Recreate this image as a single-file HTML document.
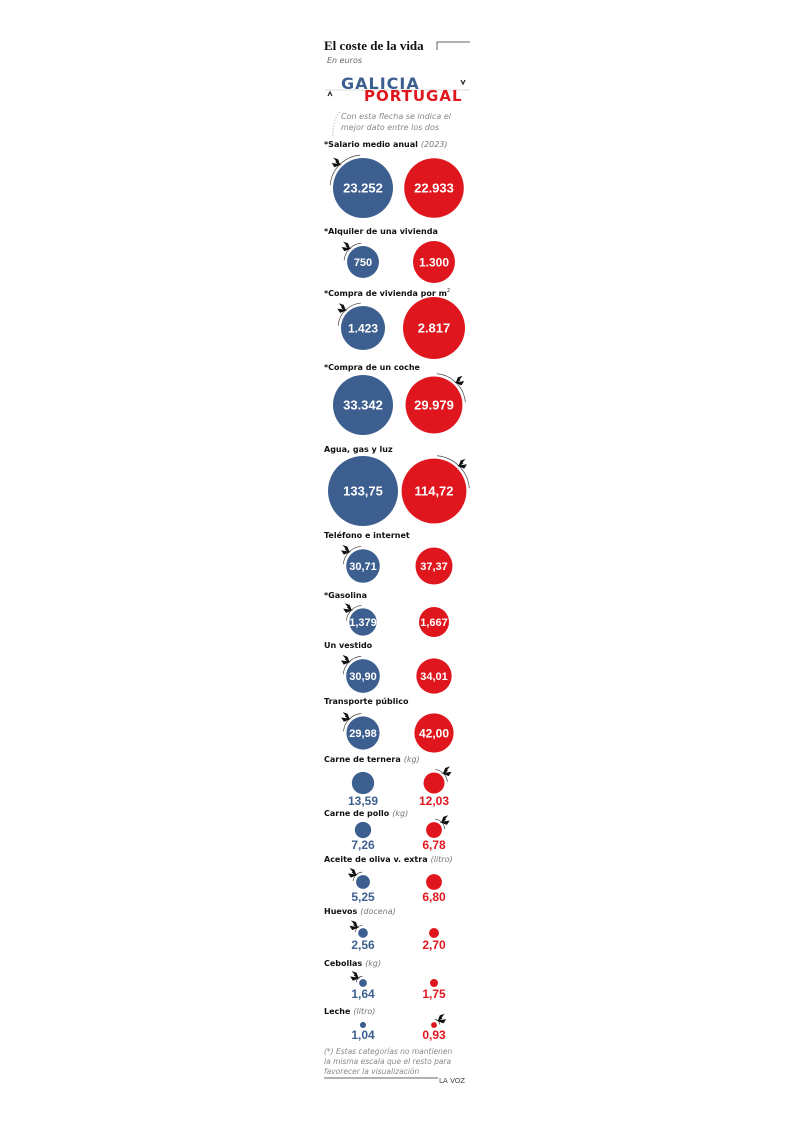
<!DOCTYPE html>
<html><head><meta charset="utf-8"><style>
html,body{margin:0;padding:0;background:#fff;}
svg{display:block;}
text{font-family:"DejaVu Sans","Liberation Sans",sans-serif;}
</style></head><body>
<svg width="794" height="1123" viewBox="0 0 794 1123" id="chart">
<text x="324" y="50" font-weight="bold" font-size="13" fill="#111" style="font-family:'Liberation Serif',serif">El coste de la vida</text>
<path d="M437 50 V42 H470" stroke="#333" fill="none" stroke-width="0.8"/>
<text x="327" y="63" font-size="8" font-style="italic" fill="#666">En euros</text>
<text x="341" y="89" font-size="16" font-weight="bold" fill="#3d5f8f" letter-spacing="1">GALICIA</text>
<line x1="325" y1="90" x2="470" y2="90" stroke="#bbb" stroke-width="0.6"/>
<text x="364" y="101" font-size="15" font-weight="bold" fill="#e0161e" letter-spacing="1">PORTUGAL</text>
<path d="M328 96 l2 -4 l2 4" stroke="#222" fill="none" stroke-width="1.2"/>
<path d="M461 80 l2 4 l2 -4" stroke="#222" fill="none" stroke-width="1.2"/>
<path d="M340 112 Q332 120 333 138" stroke="#999" fill="none" stroke-width="0.6" stroke-dasharray="1.5,1.5"/>
<text x="341" y="119" font-size="8" font-style="italic" fill="#888">Con esta flecha se indica el</text>
<text x="341" y="130" font-size="8" font-style="italic" fill="#888">mejor dato entre los dos</text>
<g id="rows"></g>
<text x="324" y="1054" font-size="7.5" font-style="italic" fill="#888">(*) Estas categorías no mantienen</text>
<text x="324" y="1064" font-size="7.5" font-style="italic" fill="#888">la misma escala que el resto para</text>
<text x="324" y="1074" font-size="7.5" font-style="italic" fill="#888">favorecer la visualización</text>
<line x1="324" y1="1078" x2="438" y2="1078" stroke="#333" stroke-width="0.8"/>
<text x="439" y="1083" font-size="7" fill="#444">LA VOZ</text>
</svg>
<script>
const categories = ["Salario medio anual","Alquiler de una vivienda","Compra de vivienda por m","Compra de un coche","Agua, gas y luz","Teléfono e internet","Gasolina","Un vestido","Transporte público","Carne de ternera","Carne de pollo","Aceite de oliva v. extra","Huevos","Cebollas","Leche"];
const units = ["(2023)","","","","","","","","","(kg)","(kg)","(litro)","(docena)","(kg)","(litro)"];
const starred = [true,true,true,true,false,false,true,false,false,false,false,false,false,false,false];
const galiciaValues = [23252,750,1423,33342,133.75,30.71,1.379,30.90,29.98,13.59,7.26,5.25,2.56,1.64,1.04];
const portugalValues = [22933,1300,2817,29979,114.72,37.37,1.667,34.01,42.00,12.03,6.78,6.80,2.70,1.75,0.93];
const galiciaLabels = ["23.252","750","1.423","33.342","133,75","30,71","1,379","30,90","29,98","13,59","7,26","5,25","2,56","1,64","1,04"];
const portugalLabels = ["22.933","1.300","2.817","29.979","114,72","37,37","1,667","34,01","42,00","12,03","6,78","6,80","2,70","1,75","0,93"];
const higherIsBetter = [true,false,false,false,false,false,false,false,false,false,false,false,false,false,false];

// layout (not data)
const labelY = [147,234,296,370,452,538,598,648,704,762,816,862,914,966,1014];
const circleY = [188,262,328,405,491,566,622,676,733,783,830,882,933,983,1025];
const starredMaxR = {0:30,1:21,2:31,3:30,6:15};
const K = 35/Math.sqrt(133.75);
const BLUE="#3d5f8f", RED="#e0161e", LX=363, RX=434;
const NS="http://www.w3.org/2000/svg";
const g=document.getElementById('rows');
function el(tag,attrs,parent){const e=document.createElementNS(NS,tag);for(const k in attrs)e.setAttribute(k,attrs[k]);(parent||g).appendChild(e);return e;}
function radius(i,v){
  if(starred[i]){const m=Math.max(galiciaValues[i],portugalValues[i]);return starredMaxR[i]*Math.sqrt(v/m);}
  return K*Math.sqrt(v);
}
categories.forEach((c,i)=>{
  const t=el('text',{x:324,y:labelY[i],'font-size':8,'font-weight':'bold',fill:'#111'});
  
  
  t.textContent=(starred[i]?'*':'')+c;
  if(i===2){const s=el('tspan',{'font-size':5,dy:-4,'font-weight':'normal'},t);s.textContent='2';}
  if(units[i]){const s=el('tspan',{'font-weight':'normal','font-style':'italic',fill:'#777',dx:3,dy:i===2?4:0},t);s.textContent=units[i];}
  const rl=radius(i,galiciaValues[i]), rr=radius(i,portugalValues[i]);
  const cy=circleY[i];
  const big = rl>=12;
  const a=el('circle',{cx:LX,cy:cy,r:rl,fill:BLUE});
  
  
  const b=el('circle',{cx:RX,cy:cy,r:rr,fill:RED});
  
  
  [[LX,galiciaLabels[i],rl,BLUE],[RX,portugalLabels[i],rr,RED]].forEach(([x,l,r,col],j)=>{
    const inside = big;
    const fs = inside ? (r>25?13:(r>19?12:11)) : 12;
    const tt=el('text',{x:x,y:inside?cy+fs*0.36:cy+Math.max(rl,rr)+11,'text-anchor':'middle','font-size':fs,'font-weight':'bold',fill:inside?'#fff':col,style:"font-family:'Liberation Sans',sans-serif"});
    
    
    tt.textContent=l;
  });
  const gWins = higherIsBetter[i] ? galiciaValues[i]>portugalValues[i] : galiciaValues[i]<portugalValues[i];
  const cx = gWins?LX:RX, r=gWins?rl:rr, ang=gWins?-135:-45;
  const rad=ang*Math.PI/180, R=r+3;
  const px=cx+R*Math.cos(rad), py=cy+R*Math.sin(rad);
  const a1=(ang-40)*Math.PI/180, a2=(ang+40)*Math.PI/180;
  const arc=el('path',{d:`M${cx+R*Math.cos(a1)} ${cy+R*Math.sin(a1)} A${R} ${R} 0 0 1 ${cx+R*Math.cos(a2)} ${cy+R*Math.sin(a2)}`,stroke:'#444',fill:'none','stroke-width':0.7});
  
  
  const dir=gWins?1:-1;
  const head=el('path',{d:`M${px} ${py} l${-5*dir} -6 l${3*dir} 1 z M${px} ${py} l${-7*dir} -1 l${2*dir} 3 z M${px} ${py} l${-4*dir} -3`,fill:'#111',stroke:'#111','stroke-width':1});
  
  
});
</script>
</body></html>
